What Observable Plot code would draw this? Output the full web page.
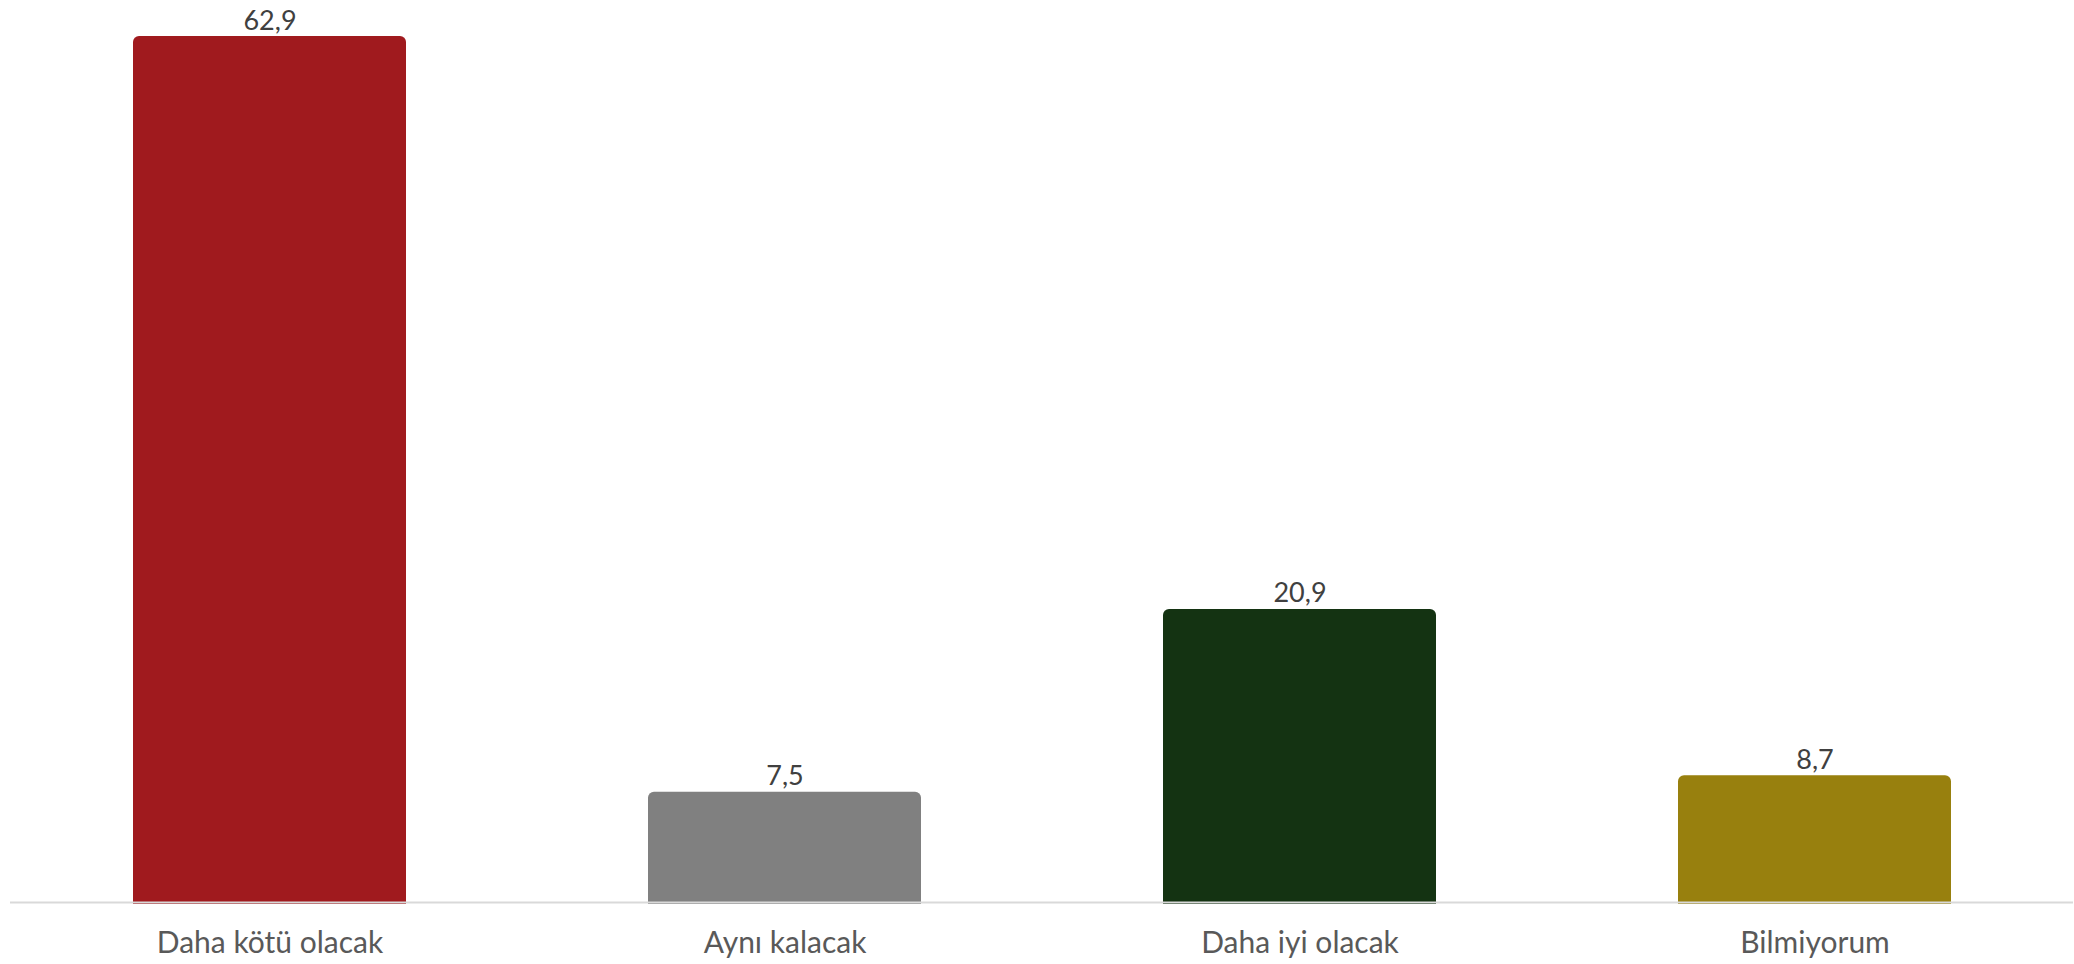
<!DOCTYPE html>
<html>
<head>
<meta charset="utf-8">
<script src="https://cdn.jsdelivr.net/npm/d3@7"></script>
<script src="https://cdn.jsdelivr.net/npm/@observablehq/plot@0.6"></script>
<style>
  html, body { margin: 0; padding: 0; background: #ffffff; }
  #chart svg { display: block; }
</style>
</head>
<body>
<div id="chart"></div>
<script>
const categories = ["Daha kötü olacak", "Aynı kalacak", "Daha iyi olacak", "Bilmiyorum"];
const values = [62.9, 7.5, 20.9, 8.7];
const colors = ["#A01A1E", "#808080", "#143312", "#98800E"];

const data = categories.map((c, i) => ({category: c, value: values[i], color: colors[i]}));
const fmt = v => v.toFixed(1).replace(".", ",");

const chart = Plot.plot({
  width: 2074,
  height: 964,
  marginTop: 36,
  marginBottom: 70,
  marginLeft: 10,
  marginRight: 1,
  style: {fontFamily: "Lato, 'Open Sans', sans-serif", background: "#ffffff"},
  x: {domain: categories, paddingInner: 0.47, paddingOuter: 0.235, label: null},
  y: {domain: [0, 62.9], axis: null},
  marks: [
    Plot.barY(data, {x: "category", y: "value", fill: "color", ry1: 6, rx1y1: 6, rx2y1: 6, insetBottom: -10}),
    Plot.ruleY([0], {stroke: "#d9d9d9", strokeWidth: 2, dy: 8}),
    Plot.text(data, {x: "category", y: "value", text: d => fmt(d.value), lineAnchor: "bottom", dy: -7, fontSize: 27, fill: "#404040"}),
    Plot.axisX({tickSize: 0, tickPadding: 37, fontSize: 30, fill: "#595959", label: null})
  ]
});
document.getElementById("chart").appendChild(chart);
</script>
</body>
</html>
